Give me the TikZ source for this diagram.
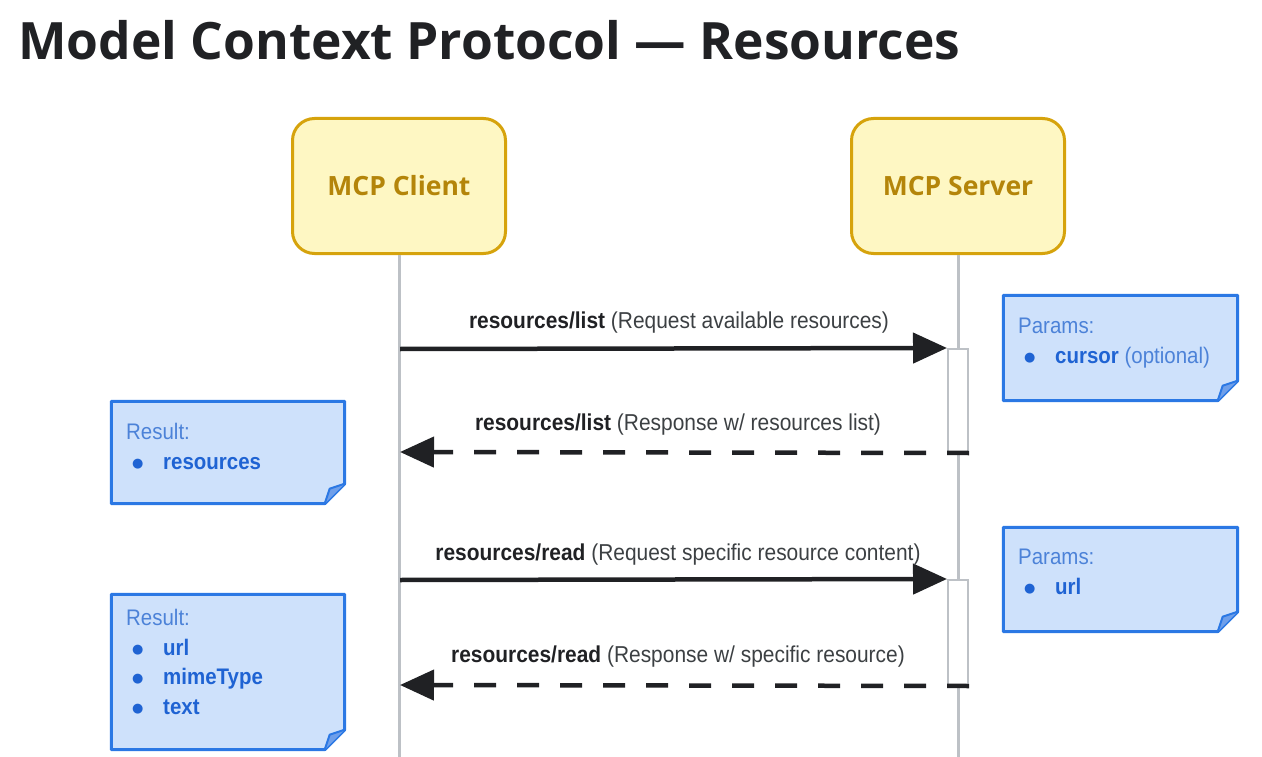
\documentclass[tikz,border=0pt]{standalone}
\usepackage{fontspec}
\setmainfont{Liberation Sans}
\newfontfamily\titlefont{Open Sans}
\newfontfamily\condfont[FakeStretch=0.91]{Liberation Sans}
\newfontfamily\symfont{DejaVu Sans}
\usetikzlibrary{arrows.meta}

\definecolor{lifegray}{HTML}{BDC1C6}
\definecolor{boxfill}{HTML}{FEF7C3}
\definecolor{boxline}{HTML}{D6A30C}
\definecolor{boxtext}{HTML}{B4850A}
\definecolor{notefill}{HTML}{CEE1FB}
\definecolor{noteblue}{HTML}{2B78E4}
\definecolor{notefold}{HTML}{6F9FEA}
\definecolor{notehead}{HTML}{4C82D8}
\definecolor{noteitem}{HTML}{1F63D3}
\definecolor{inkblack}{HTML}{202124}
\definecolor{inkgray}{HTML}{3C4043}

\tikzstyle{actor}=[rectangle,rounded corners=22pt,draw=boxline,line width=3pt,fill=boxfill,minimum width=213pt,minimum height=135pt,text=boxtext,font=\titlefont\bfseries\fontsize{26.5}{26.5}\selectfont]
\tikzstyle{lifeline}=[draw=lifegray,line width=3pt]
\tikzstyle{activation}=[rectangle,draw=lifegray,line width=2pt,fill=white,minimum width=20pt,inner sep=0pt]
\tikzstyle{call}=[draw=inkblack,line width=4.5pt,-{Triangle[length=34pt,width=30pt]}]
\tikzstyle{reply}=[call,dash pattern=on 22pt off 21pt]
\tikzstyle{msg}=[inner sep=0pt,anchor=base,text=inkgray,font=\condfont\fontsize{23}{26}\selectfont]
\tikzstyle{notebox}=[rectangle,inner sep=0pt]
\tikzstyle{noteline}=[draw=noteblue,line width=3pt,fill=notefill,line join=round]
\tikzstyle{notetext}=[inner sep=0pt,anchor=north west,align=left,text=notehead,font=\condfont\fontsize{22.5}{29.5}\selectfont]

\newcommand{\op}[1]{\textcolor{inkblack}{\bfseries #1}}
\newcommand{\itm}[1]{\makebox[37pt][l]{\hspace{6pt}\raisebox{2pt}{\textcolor{noteitem}{\symfont\fontsize{13}{13}\selectfont ●}}}\textcolor{noteitem}{\bfseries #1}}

\begin{document}
\begin{tikzpicture}[x=1pt,y=-1pt]
\useasboundingbox (0,0) rectangle (1262,757);

\node[anchor=base west,inner sep=0pt,text=inkblack,font=\titlefont\bfseries\fontsize{51.5}{51.5}\selectfont] (title) at (18,60) {Model Context Protocol — Resources};

% participants
\node[actor] (client) at (399,186) {MCP Client};
\node[actor] (server) at (958,186) {MCP Server};
\coordinate (clientend) at (399,757);
\coordinate (serverend) at (958,757);
\draw[lifeline] (client) -- (clientend);
\draw[lifeline] (server) -- (serverend);

\node[activation,minimum height=103pt] (act1) at (958,400.5) {};
\node[activation,minimum height=105pt] (act2) at (958,632.5) {};

% messages
\coordinate (c1) at (400,349);
\coordinate (c2) at (400,452);
\coordinate (c3) at (400,580);
\coordinate (c4) at (400,685);
\draw[call] (c1) -- (act1.north west);
\draw[reply] (act1.south east) -- (c2);
\draw[call] (c3) -- (act2.north west);
\draw[reply] (act2.south east) -- (c4);

\node[msg] (m1) at (679,328) {\op{resources/list} (Request available resources)};
\node[msg] (m2) at (678,430) {\op{resources/list} (Response w/ resources list)};
\node[msg] (m3) at (678,560) {\op{resources/read} (Request specific resource content)};
\node[msg] (m4) at (678,662) {\op{resources/read} (Response w/ specific resource)};

% notes
\node[notebox,minimum width=234pt,minimum height=105pt] (p1) at (1120.5,348) {};
\node[notebox,minimum width=233pt,minimum height=102pt] (r1) at (228,452.5) {};
\node[notebox,minimum width=234pt,minimum height=104pt] (p2) at (1120.5,579.5) {};
\node[notebox,minimum width=233pt,minimum height=155pt] (r2) at (228,672) {};
\foreach \n in {p1,r1,p2,r2} {
  \draw[noteline] (\n.north west) -- (\n.north east) -- ([yshift=20pt]\n.south east)
    -- ([xshift=-20pt]\n.south east) -- (\n.south west) -- cycle;
  \draw[draw=noteblue,line width=2pt,fill=notefold,line join=round] ([yshift=20pt]\n.south east)
    -- ([xshift=-15pt,yshift=15pt]\n.south east) -- ([xshift=-20pt]\n.south east);
}

\node[notetext] (p1txt) at (1018,318) {Params:\\\itm{cursor} \textcolor{notehead}{(optional)}};
\node[notetext] (r1txt) at (126,423) {Result:\\\itm{resources}};
\node[notetext] (p2txt) at (1018,549) {Params:\\\itm{url}};
\node[notetext] (r2txt) at (126,609) {Result:\\\itm{url}\\\itm{mimeType}\\\itm{text}};
\end{tikzpicture}
\end{document}
